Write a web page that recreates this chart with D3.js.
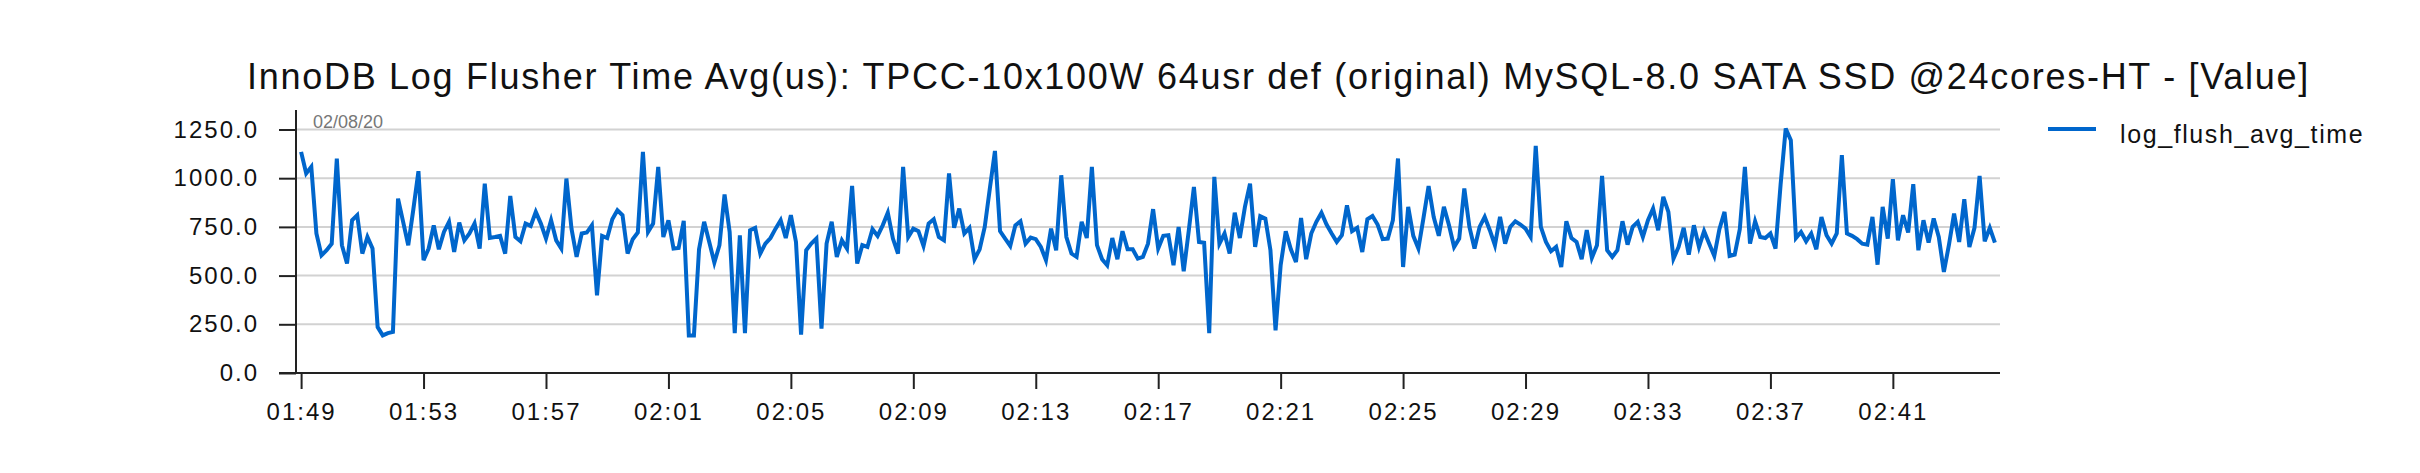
<!DOCTYPE html>
<html>
<head>
<meta charset="utf-8">
<script src="https://cdn.jsdelivr.net/npm/d3@7/dist/d3.min.js"></script>
<style>
  html, body { margin: 0; padding: 0; background: #ffffff; }
  svg { display: block; }
  text { font-family: "Liberation Sans", Arial, Helvetica, sans-serif; }
</style>
</head>
<body>
<svg id="chart" width="2420" height="473"></svg>
<script>
// ---------------- DATA ----------------
const chartTitle = "InnoDB Log Flusher Time Avg(us): TPCC-10x100W 64usr def (original) MySQL-8.0 SATA SSD @24cores-HT - [Value]";
const seriesName = "log_flush_avg_time";
const dateLabel = "02/08/20";
const startTime = "2020-02-08T01:49:00Z";
const sampleSeconds = 10;

const seg1 = [1135,1024,1058,716,604,630,664,1101,656,562,784,810,613,698,639,236,193,205,211,895,776,656,840,1036,579,639,758,635,724,776,621,772,681,716,767,639,972,693,698,704,613,909,698,676,767,755,827];
const seg2 = [767,690,784,681,639,998,741,596,716,721,758,399,704,693,789,835,810,613,687,721,1135,724,767,1058,698,784,639,642,781,193,193,635,776,673,567,656,916,724,205,707,205,733,745,613,664,693,741,784];
const seg3 = [693,810,673,197,630,664,690,228,664,776,596,681,639,960,562,656,647,738,704,758,823,690,613,1058,698,741,728,652,767,789,698,681,1024,745,844,716,745,584,635,750,947,1140,728,690,652,758,779,664];
const seg4 = [695,687,647,579,741,630,1015,698,613,596,776,693,1058,656,584,553,693,584,728,635,635,587,596,664,841,639,704,707,553,750,522,733,955,673,669,205,1007,664,716,613,823,693,853,972,647,805,793,630];
const seg5 = [219,553,728,635,570,796,584,716,776,823,762,716,673,707,861,728,745,621,789,806,762,687,690,784,1101,544,853,704,639,796,960,801,704,853,758,647,690,947,750,639,750,801,733,656,801,664,750,779];
const seg6 = [762,741,698,1166,750,673,625,647,544,779,693,673,584,733,591,656,1012,630,596,630,779,659,750,776,698,784,844,733,904,827,587,647,745,608,758,647,728,664,601,738,827,601,608,738,1058,664,779,698];
const seg7 = [693,716,639,969,1255,1195,693,724,676,716,635,801,707,664,716,1118,716,704,687,664,659,801,556,853,690,995,681,810,721,969,630,784,669,793,698,519,659,818,673,892,647,745,1012,676,745,669];

const xTickLabels = ["01:49","01:53","01:57","02:01","02:05","02:09","02:13","02:17","02:21","02:25","02:29","02:33","02:37","02:41"];
const yTickValues = [0, 250, 500, 750, 1000, 1250];
const yMax = 1350;

// ---------------- BUILD ----------------
(function () {
const values = [].concat(seg1, seg2, seg3, seg4, seg5, seg6, seg7);
const t0 = new Date(startTime).getTime();
const data = values.map((v, i) => ({ t: new Date(t0 + i * sampleSeconds * 1000), v: v }));

const plotLeft = 296, plotRight = 2000, plotTop = 110, plotBottom = 373;
const svg = d3.select("#chart");

const x = d3.scaleUtc()
  .domain([new Date(t0 - sampleSeconds * 1000), new Date(t0 + values.length * sampleSeconds * 1000)])
  .range([plotLeft, plotRight]);
const y = d3.scaleLinear().domain([0, yMax]).range([plotBottom, plotTop]);

const parseTick = d3.utcParse("%Y-%m-%d %H:%M");
const xTicks = xTickLabels.map(s => parseTick("2020-02-08 " + s));

// gridlines
svg.append("g").selectAll("line")
  .data(yTickValues.filter(d => d > 0))
  .join("line")
  .attr("x1", plotLeft).attr("x2", plotRight)
  .attr("y1", d => y(d)).attr("y2", d => y(d))
  .attr("stroke", "#d2d2d2").attr("stroke-width", 2);

// date label
svg.append("text")
  .attr("x", 313).attr("y", 128)
  .attr("fill", "#777777")
  .attr("font-size", 18)
  .text(dateLabel);

// line
svg.append("path")
  .datum(data)
  .attr("fill", "none")
  .attr("stroke", "#0066cc")
  .attr("stroke-width", 4)
  .attr("stroke-linejoin", "miter")
  .attr("d", d3.line().x(d => x(d.t)).y(d => y(d.v)));

// y axis
const yAxis = svg.append("g")
  .attr("transform", `translate(${plotLeft},0)`)
  .call(d3.axisLeft(y).tickValues(yTickValues).tickSize(17).tickPadding(20).tickSizeOuter(0).tickFormat(d3.format(".1f")));
yAxis.select(".domain").attr("d", `M0,${plotTop}V${plotBottom}`).attr("stroke", "#222").attr("stroke-width", 2);
yAxis.selectAll(".tick line").attr("stroke", "#222").attr("stroke-width", 2);
yAxis.selectAll(".tick text").attr("font-size", 24).attr("fill", "#111")
  .style("letter-spacing", "2px")
  .attr("font-family", "'Liberation Sans', Arial, Helvetica, sans-serif");

// x axis
const xAxis = svg.append("g")
  .attr("transform", `translate(0,${plotBottom})`)
  .call(d3.axisBottom(x).tickValues(xTicks).tickSize(16).tickPadding(14).tickSizeOuter(0).tickFormat(d3.utcFormat("%H:%M")));
xAxis.select(".domain").attr("d", `M${plotLeft - 17},0H${plotRight}`).attr("stroke", "#222").attr("stroke-width", 2);
xAxis.selectAll(".tick line").attr("stroke", "#222").attr("stroke-width", 2);
xAxis.selectAll(".tick text").attr("font-size", 24).attr("fill", "#111")
  .style("letter-spacing", "2px")
  .attr("font-family", "'Liberation Sans', Arial, Helvetica, sans-serif");

// title, fitted to reference width
const title = svg.append("text")
  .attr("x", 247).attr("y", 89)
  .attr("font-size", 36)
  .attr("fill", "#111")
  .text(chartTitle);
const natural = title.node().getComputedTextLength();
const targetW = 2063;
title.style("letter-spacing", ((targetW - natural) / chartTitle.length) + "px");

// legend
svg.append("line")
  .attr("x1", 2048).attr("x2", 2096).attr("y1", 129).attr("y2", 129)
  .attr("stroke", "#0066cc").attr("stroke-width", 4);
svg.append("text")
  .attr("x", 2120).attr("y", 143)
  .attr("font-size", 25).attr("fill", "#111")
  .style("letter-spacing", "1.6px")
  .text(seriesName);
})();
</script>
</body>
</html>
